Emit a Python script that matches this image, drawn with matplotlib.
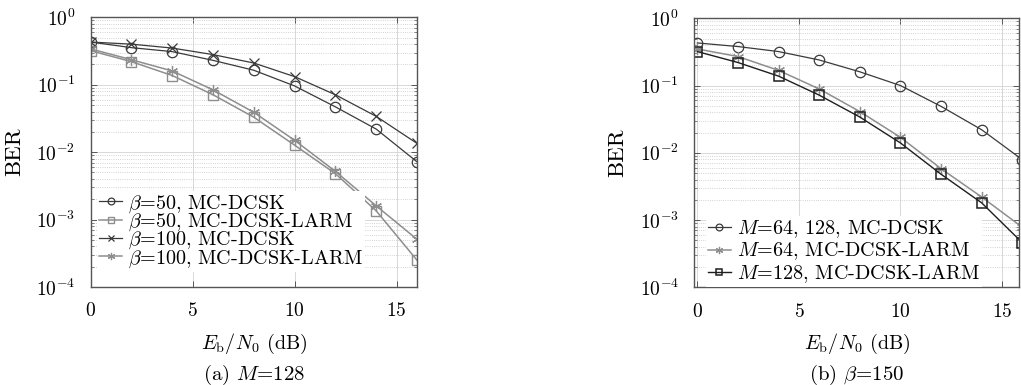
import numpy as np
import matplotlib.pyplot as plt
from matplotlib.ticker import LogLocator, NullFormatter

plt.rcParams['font.family'] = ['cmr10', 'DejaVu Serif']
plt.rcParams['mathtext.fontset'] = 'cm'
plt.rcParams['axes.unicode_minus'] = False
plt.rcParams['axes.formatter.use_mathtext'] = True

snr = [0, 2, 4, 6, 8, 10, 12, 14, 16]

# (a) M=128
ber_b50_dcsk = [0.43, 0.355, 0.31, 0.23, 0.164, 0.096, 0.047, 0.022, 0.0072]
ber_b50_larm = [0.32, 0.22, 0.137, 0.071, 0.033, 0.0127, 0.0048, 0.00135, 0.00025]
ber_b100_dcsk = [0.43, 0.40, 0.35, 0.28, 0.21, 0.132, 0.071, 0.034, 0.0135]
ber_b100_larm = [0.34, 0.235, 0.16, 0.084, 0.039, 0.015, 0.0052, 0.0016, 0.00051]

# (b) beta=150
ber_m_dcsk = [0.43, 0.38, 0.32, 0.24, 0.16, 0.10, 0.049, 0.022, 0.0079]
ber_m64_larm = [0.35, 0.27, 0.168, 0.089, 0.041, 0.017, 0.0058, 0.0022, 0.00078]
ber_m128_larm = [0.32, 0.22, 0.138, 0.072, 0.034, 0.014, 0.0048, 0.0018, 0.00046]

dark = '#3a3a3a'
light = '#8e8e8e'
black = '#1e1e1e'
asterisk = (6, 2, 0)

fig = plt.figure(figsize=(10.21, 3.85), dpi=100)
ax1 = fig.add_axes([0.0888, 0.2545, 0.3196, 0.7005])
ax2 = fig.add_axes([0.6800, 0.2538, 0.3183, 0.6987])


def style(ax, xlim, caption):
    ax.set_yscale('log')
    ax.set_ylim(1e-4, 1)
    ax.set_xlim(*xlim)
    ax.set_xticks([0, 5, 10, 15])
    ax.yaxis.set_major_locator(LogLocator(base=10, numticks=10))
    ax.yaxis.set_minor_locator(LogLocator(base=10, subs=np.arange(2, 10), numticks=20))
    ax.yaxis.set_minor_formatter(NullFormatter())
    ax.grid(True, which='major', color='#d8d8d8', linewidth=0.7, linestyle='-')
    ax.grid(True, which='minor', axis='y', color='#c4c4c4', linewidth=0.6, linestyle=':')
    ax.set_axisbelow(True)
    ax.tick_params(which='both', direction='in', top=True, right=True, color='#555555')
    ax.tick_params(which='major', length=4, width=0.7, labelsize=14)
    ax.tick_params(which='minor', length=2, width=0.5)
    ax.tick_params(axis='x', pad=11)
    ax.tick_params(axis='y', pad=11)
    for sp in ax.spines.values():
        sp.set_color('#555555')
        sp.set_linewidth(1.0)
    ax.set_xlabel(r'$E_{\mathrm{b}}/N_0$ (dB)', fontsize=14.5)
    ax.set_ylabel('BER', fontsize=16.5)
    ax.xaxis.set_label_coords(0.5, -0.165)
    ax.yaxis.set_label_coords(-0.205, 0.5)
    ax.text(0.5, -0.326, caption, transform=ax.transAxes, ha='center', va='center', fontsize=15)


def legend(ax, anchor, spacing):
    leg = ax.legend(loc='lower left', bbox_to_anchor=anchor, fontsize=14.5, frameon=True,
                    handlelength=1.15, handletextpad=0.3, labelspacing=spacing, borderpad=0.1,
                    borderaxespad=0.0, markerscale=0.65)
    leg.get_frame().set_edgecolor('none')
    leg.get_frame().set_facecolor('white')
    leg.get_frame().set_alpha(1)
    leg.get_frame().set_boxstyle('square', pad=0)


style(ax1, (0, 16), r'(a) $M$=128')
ax1.plot(snr, ber_b50_dcsk, color=dark, lw=0.9, marker='o', ms=7.5, mfc='none', mew=0.9,
         label=r'$\beta$=50, MC-DCSK')
ax1.plot(snr, ber_b50_larm, color=light, lw=1.1, marker='s', ms=6.5, mfc='none', mew=1.0,
         label=r'$\beta$=50, MC-DCSK-LARM')
ax1.plot(snr, ber_b100_dcsk, color=dark, lw=0.9, marker='x', ms=6.5, mew=0.9,
         label=r'$\beta$=100, MC-DCSK')
ax1.plot(snr, ber_b100_larm, color=light, lw=1.1, marker=asterisk, ms=8, mew=0.9,
         label=r'$\beta$=100, MC-DCSK-LARM')
legend(ax1, (0.02, 0.057), -0.16)

style(ax2, (-0.15, 15.85), r'(b) $\beta$=150')
ax2.plot(snr, ber_m_dcsk, color=dark, lw=0.9, marker='o', ms=7.5, mfc='none', mew=0.9,
         label=r'$M$=64, 128, MC-DCSK')
ax2.plot(snr, ber_m64_larm, color=light, lw=1.1, marker=asterisk, ms=8, mew=0.9,
         label=r'$M$=64, MC-DCSK-LARM')
ax2.plot(snr, ber_m128_larm, color=black, lw=1.0, marker='s', ms=7, mfc='none', mew=1.1,
         label=r'$M$=128, MC-DCSK-LARM')
legend(ax2, (0.035, 0.0), 0.05)

fig.savefig('out.png', dpi=100)
